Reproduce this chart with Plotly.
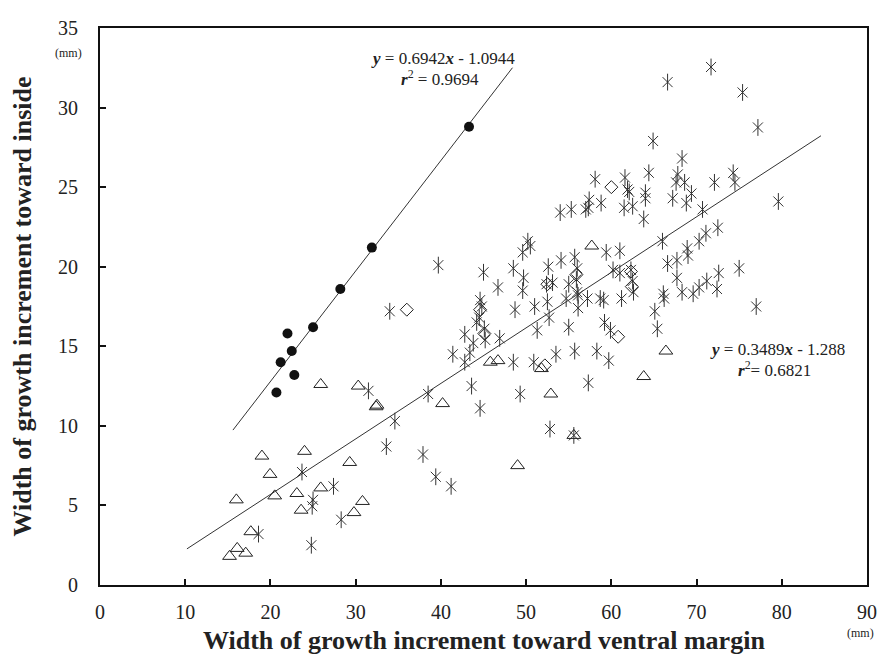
import plotly.graph_objects as go

# ---- data ----
circle_x = [43.3, 31.9, 28.2, 25.0, 22.0, 22.5, 21.2, 22.8, 20.7]
circle_y = [28.8, 21.2, 18.6, 16.2, 15.8, 14.7, 14.0, 13.2, 12.1]

tri_x = [24.0, 19.0, 29.3, 19.95, 25.9, 20.5, 23.1, 16.0, 23.6, 30.8, 29.8, 17.7, 16.1, 17.1, 15.2,
         25.9, 30.3, 32.4, 32.5, 40.2, 45.8, 46.7, 51.8, 52.9, 49.0, 55.6, 57.7, 66.4, 63.8]
tri_y = [8.4, 8.1, 7.7, 6.95, 6.1, 5.6, 5.75, 5.35, 4.7, 5.25, 4.55, 3.35, 2.3, 2.0, 1.8,
         12.6, 12.5, 11.2, 11.3, 11.4, 14.0, 14.1, 13.6, 12.0, 7.5, 9.4, 21.3, 14.7, 13.1]

dia_x = [36.0, 44.6, 45.1, 52.2, 55.9, 52.5, 60.0, 60.8, 62.3, 62.4]
dia_y = [17.3, 17.3, 15.8, 13.8, 19.5, 18.9, 25.0, 15.6, 19.7, 18.75]

ast_x = [23.7, 27.4, 25.0, 24.9, 18.6, 28.3, 24.8, 33.6, 37.9, 39.4, 41.2, 34.6, 31.5, 38.5, 39.7,
         34.0, 41.4, 42.8, 43.8, 43.4, 42.8, 43.6, 44.6, 45.1, 45.2, 46.9, 45.0, 46.7, 44.6, 44.5,
         44.2, 44.8, 48.5, 49.7, 49.6, 48.7, 48.5, 50.2, 50.5, 49.6, 51.0, 52.5, 52.7, 51.3, 50.9,
         49.3, 52.8, 55.6, 52.6, 54.1, 55.7, 56.0, 55.9, 52.4, 53.1, 55.0, 56.0, 56.1, 54.7, 57.2,
         58.7, 59.1, 61.2, 60.2, 61.0, 62.5, 62.6, 56.1, 59.2, 55.0, 59.9, 65.1, 65.4, 53.5, 55.7,
         58.3, 59.7, 57.3, 59.4, 61.0, 54.0, 55.3, 57.0, 57.3, 57.4, 58.8, 58.1, 61.6, 64.4, 61.9,
         62.1, 64.0, 64.0, 61.5, 62.5, 63.8, 71.7, 66.6, 75.4, 77.2, 64.9, 68.3, 67.8, 67.6, 68.6,
         69.4, 72.1, 74.3, 74.5, 67.2, 68.8, 70.7, 79.6, 72.5, 71.1, 70.3, 66.0, 68.9, 69.0, 66.6,
         67.7, 75.0, 72.6, 71.2, 70.3, 72.4, 67.7, 68.3, 69.6, 66.1, 66.2, 77.0, 62.3]
ast_y = [7.1, 6.2, 5.35, 4.95, 3.2, 4.1, 2.5, 8.7, 8.2, 6.8, 6.2, 10.3, 12.2, 12.0, 20.1,
         17.2, 14.5, 15.75, 15.2, 14.6, 14.0, 12.5, 11.1, 16.1, 15.4, 15.5, 19.65, 18.7, 17.9, 16.8,
         16.5, 17.5, 19.9, 19.3, 18.5, 17.3, 14.0, 21.6, 21.3, 20.9, 17.5, 17.8, 16.8, 16.0, 14.0,
         12.0, 9.8, 9.4, 20.0, 20.4, 20.6, 19.9, 19.2, 18.9, 19.0, 18.9, 18.4, 18.2, 18.0, 18.0,
         18.0, 17.9, 18.0, 19.8, 19.6, 19.1, 18.4, 17.4, 16.5, 16.2, 16.0, 17.2, 16.1, 14.5, 14.7,
         14.7, 14.1, 12.7, 20.9, 21.0, 23.4, 23.6, 23.6, 23.7, 24.2, 24.0, 25.5, 25.6, 25.9, 24.85,
         24.7, 24.65, 24.3, 23.7, 23.8, 23.0, 32.55, 31.6, 30.95, 28.75, 27.9, 26.8, 25.8, 25.3, 25.3,
         24.6, 25.3, 25.9, 25.3, 24.3, 24.0, 23.6, 24.1, 22.45, 22.1, 21.6, 21.6, 21.15, 20.7, 20.2,
         20.4, 19.9, 19.6, 19.1, 18.7, 18.6, 19.3, 18.4, 18.3, 18.3, 18.0, 17.5, 19.8]

# regression lines (equations from the chart) and their drawn extents
fit1_slope, fit1_icpt, fit1_x = 0.6942, -1.0944, [15.6, 48.4]
fit2_slope, fit2_icpt, fit2_x = 0.3489, -1.288, [10.2, 84.6]

x_ticks = [0, 10, 20, 30, 40, 50, 60, 70, 80, 90]
y_ticks = [0, 5, 10, 15, 20, 25, 30, 35]

FONT = "Liberation Serif, Times New Roman, serif"
INK = "#222222"
MARK = "#333333"

fig = go.Figure()

fig.add_trace(go.Scatter(x=fit1_x, y=[fit1_slope * v + fit1_icpt for v in fit1_x], mode="lines",
                         line=dict(color=MARK, width=1), hoverinfo="skip"))
fig.add_trace(go.Scatter(x=fit2_x, y=[fit2_slope * v + fit2_icpt for v in fit2_x], mode="lines",
                         line=dict(color=MARK, width=1), hoverinfo="skip"))

# asterisks: diagonal cross + vertical stroke
fig.add_trace(go.Scatter(x=ast_x, y=ast_y, mode="markers",
                         marker=dict(symbol="x-thin-open", size=10, color=MARK,
                                     line=dict(color=MARK, width=1))))
fig.add_trace(go.Scatter(x=ast_x, y=ast_y, mode="markers",
                         marker=dict(symbol="line-ns-open", size=12, color=MARK,
                                     line=dict(color=MARK, width=1))))

fig.add_trace(go.Scatter(x=tri_x, y=tri_y, mode="markers",
                         marker=dict(symbol="triangle-up-open", size=12, color=INK,
                                     line=dict(color=INK, width=1))))
fig.add_trace(go.Scatter(x=dia_x, y=dia_y, mode="markers",
                         marker=dict(symbol="diamond-open", size=10, color=INK,
                                     line=dict(color=INK, width=1))))
fig.add_trace(go.Scatter(x=circle_x, y=circle_y, mode="markers",
                         marker=dict(symbol="circle", size=10, color="#111111")))

axis_common = dict(showgrid=False, zeroline=False, showline=True, linecolor="#111111", linewidth=2,
                   mirror=True, ticks="inside", ticklen=6, tickwidth=2, tickcolor="#111111",
                   tickfont=dict(family=FONT, size=20, color=INK))

fig.update_xaxes(range=[0, 90], tickvals=x_ticks, ticktext=[str(v) for v in x_ticks],
                 ticklabelstandoff=8, **axis_common)
fig.update_yaxes(range=[0, 35], tickvals=y_ticks, ticktext=[str(v) for v in y_ticks],
                 ticklabelstandoff=16, **axis_common)

ann = []
ann.append(dict(text="<b>Width of growth increment toward ventral margin</b>", x=0.5, xref="paper",
                xanchor="center", y=0, yref="paper", yshift=-55, yanchor="middle", showarrow=False,
                font=dict(family=FONT, size=26, color=INK)))
ann.append(dict(text="<b>Width of growth increment toward inside</b>", x=0, xref="paper",
                xanchor="center", xshift=-78, y=0.5, yref="paper", yanchor="middle",
                textangle=-90, showarrow=False, font=dict(family=FONT, size=26, color=INK)))
ann.append(dict(text="(mm)", x=0.0, xref="paper", xanchor="center", xshift=-32,
                y=1.0, yref="paper", yanchor="middle", yshift=-25,
                showarrow=False, font=dict(family=FONT, size=12, color=INK)))
ann.append(dict(text="(mm)", x=1.0, xref="paper", xanchor="center", xshift=-7,
                y=0.0, yref="paper", yanchor="middle", yshift=-48,
                showarrow=False, font=dict(family=FONT, size=12, color=INK)))
ann.append(dict(text="<b><i>y</i></b> = 0.6942<b><i>x</i></b> - 1.0944", x=40.3, y=33.1,
                xanchor="center", yanchor="middle",
                showarrow=False, font=dict(family=FONT, size=17, color=INK)))
ann.append(dict(text="<b><i>r</i></b><sup>2</sup> = 0.9694", x=39.9, y=31.85,
                xanchor="center", yanchor="middle",
                showarrow=False, font=dict(family=FONT, size=17, color=INK)))
ann.append(dict(text="<b><i>y</i></b> = 0.3489<b><i>x</i></b> - 1.288", x=79.5, y=14.8,
                xanchor="center", yanchor="middle",
                showarrow=False, font=dict(family=FONT, size=17, color=INK)))
ann.append(dict(text="<b><i>r</i></b><sup>2</sup>= 0.6821", x=79.2, y=13.6,
                xanchor="center", yanchor="middle",
                showarrow=False, font=dict(family=FONT, size=17, color=INK)))

# the page body adds an 8 px margin, so the figure is sized to fill the rest of the window
fig.update_layout(width=878, height=648, margin=dict(l=92, r=19, t=9, b=71),
                  plot_bgcolor="white", paper_bgcolor="white", showlegend=False,
                  annotations=ann, font=dict(family=FONT, color=INK))

fig.write_html("out.html")
